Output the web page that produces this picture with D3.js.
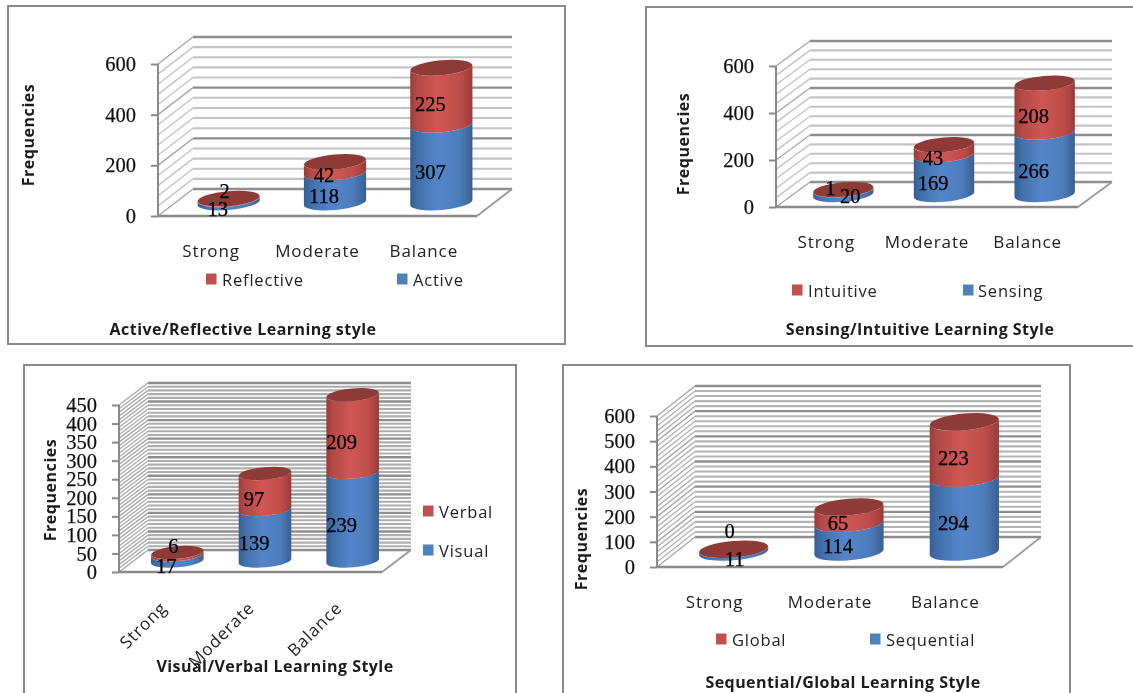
<!DOCTYPE html>
<html>
<head>
<meta charset="utf-8">
<script src="https://cdnjs.cloudflare.com/ajax/libs/d3/7.8.5/d3.min.js"></script>
<style>
  html, body { margin: 0; padding: 0; background: #fff; }
  svg { display: block; }
  text { font-family: "Open Sans", sans-serif; fill: #1c1c1c; }
  .title { font-weight: 700; font-size: 16px; letter-spacing: 0.45px; }
  .ytitle { font-weight: 700; font-size: 16px; letter-spacing: 0.55px; }
  .cat { font-size: 17px; letter-spacing: 0.9px; fill: #222; }
  .leg { font-size: 16.5px; letter-spacing: 0.8px; fill: #222; }
  .val { font-family: "Liberation Serif", serif; font-size: 20.5px; fill: #000; stroke: #000; stroke-width: 0.25px; }
  .tick text { font-family: "Liberation Serif", serif; font-size: 20.5px; fill: #111; stroke: #111; stroke-width: 0.25px; }
</style>
</head>
<body>
<script>
const categories = ["Strong", "Moderate", "Balance"];

const activeValues = [13, 118, 307];
const reflectiveValues = [2, 42, 225];
const sensingValues = [20, 169, 266];
const intuitiveValues = [1, 43, 208];
const visualValues = [17, 139, 239];
const verbalValues = [6, 97, 209];
const sequentialValues = [11, 114, 294];
const globalValues = [0, 65, 223];

const ticks600by200 = [0, 200, 400, 600];
const ticks450by50 = [0, 50, 100, 150, 200, 250, 300, 350, 400, 450];
const ticks600by100 = [0, 100, 200, 300, 400, 500, 600];

// layout of each panel
// nudgeLow / nudgeUp move the two labels of the short Strong bar
const panels = [
  {
    frame: [8, 6, 565, 344], x0: 158, x1: 477, y0: 216, y1: 64, dx: 35, dy: 27,
    max: 600, ticks: ticks600by200, minor: 40, minorColor: "#c4c4c4",
    lower: activeValues, upper: reflectiveValues, lowerName: "Active", upperName: "Reflective",
    title: "Active/Reflective Learning style", titleAt: [243, 329],
    yTitleAt: [28, 135], catY: 250, barW: 0.585,
    legend: [[206, 279, 222], [397, 279, 413]],
    nudgeLow: [0, 0], nudgeUp: [7, -16]
  },
  {
    frame: [646, 7, 1140, 346], x0: 776, x1: 1078, y0: 207, y1: 66, dx: 34, dy: 25,
    max: 600, ticks: ticks600by200, minor: 40, minorColor: "#c4c4c4",
    lower: sensingValues, upper: intuitiveValues, lowerName: "Sensing", upperName: "Intuitive",
    title: "Sensing/Intuitive Learning Style", titleAt: [920, 329],
    yTitleAt: [683, 144], catY: 241, barW: 0.6,
    legend: [[792, 290, 808], [963, 290, 978]],
    nudgeLow: [18, -4], nudgeUp: [-2, -10]
  },
  {
    frame: [24, 365, 516, 700], x0: 119, x1: 382, y0: 572, y1: 405, dx: 29, dy: 22,
    max: 450, ticks: ticks450by50, minor: 10, minorColor: "#adadad",
    lower: visualValues, upper: verbalValues, lowerName: "Visual", upperName: "Verbal",
    title: "Visual/Verbal Learning Style", titleAt: [275, 666],
    yTitleAt: [50, 490], catY: 603, rotated: true, barW: 0.6,
    legend: [[423, 511, 439], [423, 550, 439]],
    nudgeLow: [0, 0], nudgeUp: [7, -16]
  },
  {
    frame: [563, 365, 1070, 700], x0: 657, x1: 1003, y0: 567, y1: 416, dx: 38, dy: 30,
    max: 600, ticks: ticks600by100, minor: 20, minorColor: "#b4b4b4",
    lower: sequentialValues, upper: globalValues, lowerName: "Sequential", upperName: "Global",
    title: "Sequential/Global Learning Style", titleAt: [843, 682],
    yTitleAt: [581, 539], catY: 601, barW: 0.6,
    legend: [[716, 639, 732], [870, 639, 886]],
    nudgeLow: [12, 0], nudgeUp: [7, -26]
  }
];

const svg = d3.select("body").append("svg")
  .attr("width", 1133)
  .attr("height", 693);

const defs = svg.append("defs");

// the reference is a soft, upscaled scan
defs.append("filter").attr("id", "soft")
  .attr("x", "0").attr("y", "0").attr("width", "100%").attr("height", "100%")
  .append("feGaussianBlur").attr("stdDeviation", 0.55);

function addGradient(id, stops) {
  const g = defs.append("linearGradient").attr("id", id)
    .attr("x1", "0%").attr("x2", "100%").attr("y1", "0%").attr("y2", "0%");
  stops.forEach(s => g.append("stop").attr("offset", s[0]).attr("stop-color", s[1]));
}

addGradient("blueBody", [["0%", "#365f92"], ["12%", "#4170ac"], ["45%", "#5485c9"], ["80%", "#4d7cbb"], ["100%", "#385f90"]]);
addGradient("redBody", [["0%", "#9a3c39"], ["12%", "#b44a47"], ["45%", "#cf5654"], ["80%", "#bf4e4b"], ["100%", "#983b38"]]);

const root = svg.append("g").attr("filter", "url(#soft)");

root.append("rect")
  .attr("width", 1133)
  .attr("height", 693)
  .attr("fill", "#fff");

const tilt = -5;
const tan = Math.tan(tilt * Math.PI / 180);

// body of a cylinder between two heights, both ends follow the front of the ellipse
function bodyPath(cx, rx, ry, yLow, yHigh) {
  const s = rx * tan;
  return `M${cx - rx},${yHigh - s} L${cx - rx},${yLow - s}`
    + ` A${rx},${ry} ${tilt} 0 0 ${cx + rx},${yLow + s}`
    + ` L${cx + rx},${yHigh + s}`
    + ` A${rx},${ry} ${tilt} 0 1 ${cx - rx},${yHigh - s} Z`;
}

panels.forEach(drawPanel);

function drawPanel(p) {
  const g = root.append("g");

  g.append("rect")
    .attr("x", p.frame[0])
    .attr("y", p.frame[1])
    .attr("width", p.frame[2] - p.frame[0])
    .attr("height", p.frame[3] - p.frame[1])
    .attr("fill", "#fff")
    .attr("stroke", "#8a8a8a")
    .attr("stroke-width", 2);

  const y = d3.scaleLinear().domain([0, p.max]).range([p.y0, p.y1]);
  const x = d3.scaleBand().domain(categories).range([p.x0, p.x1]);
  const minorTicks = d3.range(0, p.max + p.minor, p.minor).filter(v => p.ticks.indexOf(v) == -1);

  // minor grid first so the major lines sit on top
  minorTicks.forEach(v => gridLine(g, p, y(v), p.minorColor, 2.1, p.minorColor));
  p.ticks.forEach(v => gridLine(g, p, y(v), "#8e8e8e", 2.4, "#a8a8a8"));

  // floor edges
  g.append("path")
    .attr("d", `M${p.x1},${p.y0} L${p.x1 + p.dx},${p.y0 - p.dy}`)
    .attr("fill", "none").attr("stroke", "#9a9a9a").attr("stroke-width", 1.8);
  g.append("path")
    .attr("d", `M${p.x0},${p.y0} L${p.x1},${p.y0}`)
    .attr("fill", "none").attr("stroke", "#8a8a8a").attr("stroke-width", 2.4);

  const axis = d3.axisLeft(y).tickValues(p.ticks).tickSize(7).tickPadding(15).tickFormat(d3.format("d"));
  const axisG = g.append("g")
    .attr("transform", `translate(${p.x0},0)`)
    .call(axis);
  axisG.selectAll("line").attr("stroke", "#8a8a8a").attr("stroke-width", 2);
  axisG.select(".domain").attr("stroke", "#8a8a8a").attr("stroke-width", 2).attr("d", `M0,${p.y0} L0,${p.y1}`);

  const rx = x.bandwidth() * p.barW / 2;
  const ry = rx * 0.24;
  const shift = p.dx / 2;
  const lift = p.dy / 2;

  categories.forEach((c, i) => {
    const cx = x(c) + x.bandwidth() / 2 + shift;
    const yBase = y(0) - lift;
    const yMid = y(p.lower[i]) - lift;
    const yTop = y(p.lower[i] + p.upper[i]) - lift;

    g.append("path")
      .attr("d", bodyPath(cx, rx, ry, yBase, yMid))
      .attr("fill", "url(#blueBody)");
    g.append("path")
      .attr("d", bodyPath(cx, rx, ry, yMid, yTop))
      .attr("fill", "url(#redBody)");
    g.append("ellipse")
      .attr("cx", cx)
      .attr("cy", yTop)
      .attr("rx", rx)
      .attr("ry", ry)
      .attr("transform", `rotate(${tilt} ${cx} ${yTop})`)
      .attr("fill", "#8e3a37");

    valueLabel(g, p.lower[i], cx, (yBase + yMid) / 2, i == 0 ? p.nudgeLow : [0, 0]);
    valueLabel(g, p.upper[i], cx, (yMid + yTop) / 2, i == 0 ? p.nudgeUp : [0, 0]);

    if (p.rotated) {
      const lx = x(c) + x.bandwidth() / 2 + 5;
      g.append("text")
        .attr("class", "cat")
        .attr("text-anchor", "end")
        .attr("transform", `translate(${lx},${p.catY + 6}) rotate(-45)`)
        .text(c);
    } else {
      g.append("text")
        .attr("class", "cat")
        .attr("text-anchor", "middle")
        .attr("dominant-baseline", "central")
        .attr("x", x(c) + x.bandwidth() / 2)
        .attr("y", p.catY)
        .text(c);
    }
  });

  // legend, upper series first
  [[p.upperName, "#c0504d"], [p.lowerName, "#4f81bd"]].forEach((d, i) => {
    const at = p.legend[i];
    g.append("rect")
      .attr("x", at[0])
      .attr("y", at[1] - 5.5)
      .attr("width", 10.5)
      .attr("height", 11)
      .attr("fill", d[1]);
    g.append("text")
      .attr("class", "leg")
      .attr("dominant-baseline", "central")
      .attr("x", at[2])
      .attr("y", at[1])
      .text(d[0]);
  });

  g.append("text")
    .attr("class", "title")
    .attr("text-anchor", "middle")
    .attr("dominant-baseline", "central")
    .attr("x", p.titleAt[0])
    .attr("y", p.titleAt[1])
    .text(p.title);

  g.append("text")
    .attr("class", "ytitle")
    .attr("text-anchor", "middle")
    .attr("dominant-baseline", "central")
    .attr("transform", `translate(${p.yTitleAt[0]},${p.yTitleAt[1]}) rotate(-90)`)
    .text("Frequencies");
}

function gridLine(g, p, yy, color, w, wallColor) {
  g.append("path")
    .attr("d", `M${p.x0},${yy} L${p.x0 + p.dx},${yy - p.dy}`)
    .attr("fill", "none").attr("stroke", wallColor).attr("stroke-width", 1.4);
  g.append("path")
    .attr("d", `M${p.x0 + p.dx},${yy - p.dy} L${p.x1 + p.dx},${yy - p.dy}`)
    .attr("fill", "none").attr("stroke", color).attr("stroke-width", w);
}

function valueLabel(g, value, cx, midY, n) {
  g.append("text")
    .attr("class", "val")
    .attr("text-anchor", "middle")
    .attr("dominant-baseline", "central")
    .attr("x", cx - 11 + n[0])
    .attr("y", midY + 8 + n[1])
    .text(value);
}
</script>
</body>
</html>
